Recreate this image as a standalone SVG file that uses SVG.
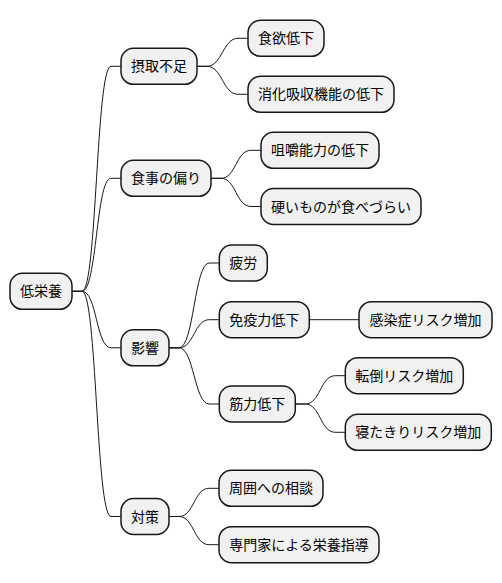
<svg xmlns="http://www.w3.org/2000/svg" width="502" height="583" viewBox="0 0 502 583">
<style>
.n rect{fill:#F1F1F1;stroke:#181818;stroke-width:1.5}
.n text{font-family:"Noto Sans CJK JP","Noto Sans CJK SC",sans-serif;font-size:14px;fill:#000000;text-anchor:middle}
#connectors path{fill:none;stroke:#181818;stroke-width:1}
</style>
<rect width="502" height="583" fill="#FFFFFF"/>
<g id="connectors">
<path d="M72,291.3 L82,291.3 C97,291.3 96,66.3 111,66.3 L121,66.3"/>
<path d="M72,291.3 L82,291.3 C97,291.3 96,178.3 111,178.3 L121,178.3"/>
<path d="M72,291.3 L82,291.3 C97,291.3 96,347.8 111,347.8 L121,347.8"/>
<path d="M72,291.3 L82,291.3 C97,291.3 96,516.5 111,516.5 L121,516.5"/>
<path d="M197,66.3 L207,66.3 C222,66.3 223,38.3 238,38.3 L248,38.3"/>
<path d="M197,66.3 L207,66.3 C222,66.3 223,94.3 238,94.3 L248,94.3"/>
<path d="M211,178.3 L221,178.3 C236,178.3 236,150.3 251,150.3 L261,150.3"/>
<path d="M211,178.3 L221,178.3 C236,178.3 236,206.5 251,206.5 L261,206.5"/>
<path d="M169,347.8 L179,347.8 C194,347.8 194.3,263 209.3,263 L219.3,263"/>
<path d="M169,347.8 L179,347.8 C194,347.8 194.3,319.7 209.3,319.7 L219.3,319.7"/>
<path d="M169,347.8 L179,347.8 C194,347.8 194.3,404 209.3,404 L219.3,404"/>
<path d="M309.3,319.7 L359,319.7"/>
<path d="M295.3,404 L305.3,404 C320.3,404 320.3,375.7 335.3,375.7 L345.3,375.7"/>
<path d="M295.3,404 L305.3,404 C320.3,404 320.3,432.3 335.3,432.3 L345.3,432.3"/>
<path d="M169,516.5 L179,516.5 C194,516.5 194,488.3 209,488.3 L219,488.3"/>
<path d="M169,516.5 L179,516.5 C194,516.5 194,544.7 209,544.7 L219,544.7"/>
</g>
<g id="n-root" class="n"><rect x="10" y="273.3" width="62" height="36" rx="12.5"/><text x="41" y="296.3">低栄養</text></g>
<g id="n-sesshu" class="n"><rect x="121" y="48.3" width="76" height="36" rx="12.5"/><text x="159" y="71.3">摂取不足</text></g>
<g id="n-shokuyoku" class="n"><rect x="248" y="20.3" width="76" height="36" rx="12.5"/><text x="286" y="43.3">食欲低下</text></g>
<g id="n-shoka" class="n"><rect x="248" y="76.3" width="146" height="36" rx="12.5"/><text x="321" y="99.3">消化吸収機能の低下</text></g>
<g id="n-katayori" class="n"><rect x="121" y="160.3" width="90" height="36" rx="12.5"/><text x="166" y="183.3">食事の偏り</text></g>
<g id="n-soshaku" class="n"><rect x="261" y="132.3" width="118" height="36" rx="12.5"/><text x="320" y="155.3">咀嚼能力の低下</text></g>
<g id="n-katai" class="n"><rect x="261" y="188.5" width="160" height="36" rx="12.5"/><text x="341" y="211.5">硬いものが食べづらい</text></g>
<g id="n-eikyo" class="n"><rect x="121" y="329.8" width="48" height="36" rx="12.5"/><text x="145" y="352.8">影響</text></g>
<g id="n-hiro" class="n"><rect x="219.3" y="245" width="48" height="36" rx="12.5"/><text x="243.3" y="268">疲労</text></g>
<g id="n-meneki" class="n"><rect x="219.3" y="301.7" width="90" height="36" rx="12.5"/><text x="264.3" y="324.7">免疫力低下</text></g>
<g id="n-kansen" class="n"><rect x="359" y="301.7" width="133" height="36" rx="12.5"/><text x="425.5" y="324.7">感染症リスク増加</text></g>
<g id="n-kinryoku" class="n"><rect x="219.3" y="386" width="76" height="36" rx="12.5"/><text x="257.3" y="409">筋力低下</text></g>
<g id="n-tento" class="n"><rect x="345.3" y="357.7" width="118" height="36" rx="12.5"/><text x="404.3" y="380.7">転倒リスク増加</text></g>
<g id="n-netakiri" class="n"><rect x="345.3" y="414.3" width="146" height="36" rx="12.5"/><text x="418.3" y="437.3">寝たきりリスク増加</text></g>
<g id="n-taisaku" class="n"><rect x="121" y="498.5" width="48" height="36" rx="12.5"/><text x="145" y="521.5">対策</text></g>
<g id="n-shui" class="n"><rect x="219" y="470.3" width="104" height="36" rx="12.5"/><text x="271" y="493.3">周囲への相談</text></g>
<g id="n-senmon" class="n"><rect x="219" y="526.7" width="160" height="36" rx="12.5"/><text x="299" y="549.7">専門家による栄養指導</text></g>
</svg>
